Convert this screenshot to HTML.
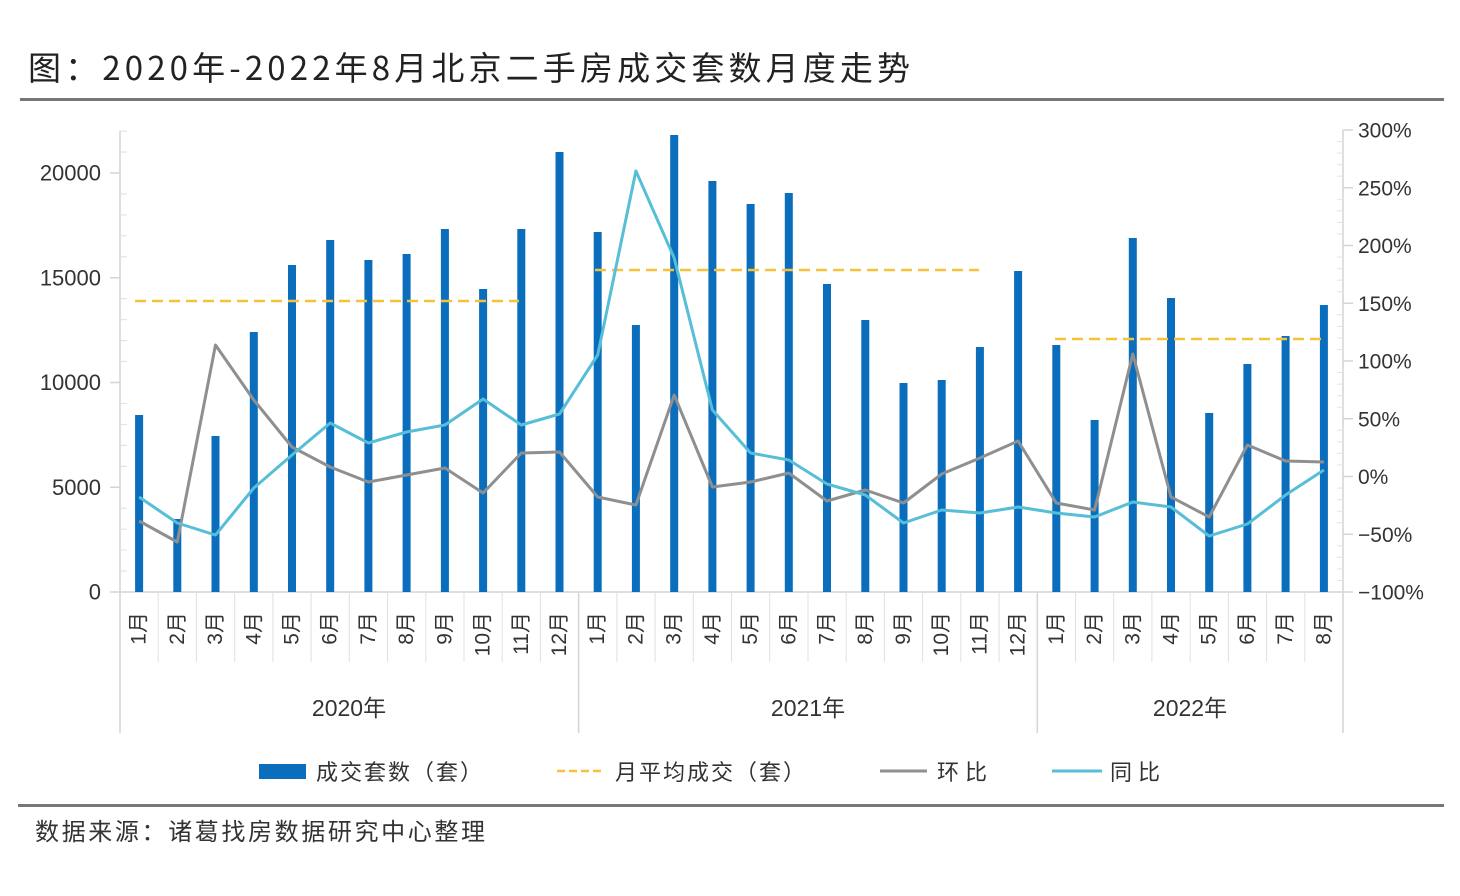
<!DOCTYPE html>
<html><head><meta charset="utf-8"><style>
html,body{margin:0;padding:0;background:#fff;}
svg{display:block;}
text{font-family:"Liberation Sans","Noto Sans CJK SC",sans-serif;}
.cjk{font-family:"Noto Sans CJK SC","Liberation Sans",sans-serif;}
</style></head><body>
<svg width="1460" height="896" viewBox="0 0 1460 896" xmlns="http://www.w3.org/2000/svg">
<rect width="1460" height="896" fill="#fff"/>
<!-- Title -->
<text x="28" y="80" font-size="33" fill="#222" class="cjk" textLength="882" lengthAdjust="spacing">图：2020年-2022年8月北京二手房成交套数月度走势</text>
<rect x="20" y="98" width="1424" height="3" fill="#777"/>

<!-- Axes -->
<g stroke="#d4d4d4" stroke-width="1.5" fill="none">
<line x1="120" y1="131" x2="120" y2="733"/>
<line x1="1343" y1="130" x2="1343" y2="733"/>
<line x1="120" y1="592" x2="1343" y2="592"/>
<line x1="578.6" y1="592" x2="578.6" y2="733"/>
<line x1="1037.3" y1="592" x2="1037.3" y2="733"/>
</g>
<!-- category separators -->
<g stroke="#e0e0e0" stroke-width="1">
<line x1="158.2" y1="592" x2="158.2" y2="662"/><line x1="196.4" y1="592" x2="196.4" y2="662"/><line x1="234.7" y1="592" x2="234.7" y2="662"/><line x1="272.9" y1="592" x2="272.9" y2="662"/><line x1="311.1" y1="592" x2="311.1" y2="662"/><line x1="349.3" y1="592" x2="349.3" y2="662"/><line x1="387.5" y1="592" x2="387.5" y2="662"/><line x1="425.8" y1="592" x2="425.8" y2="662"/><line x1="464.0" y1="592" x2="464.0" y2="662"/><line x1="502.2" y1="592" x2="502.2" y2="662"/><line x1="540.4" y1="592" x2="540.4" y2="662"/>
<line x1="616.9" y1="592" x2="616.9" y2="662"/><line x1="655.1" y1="592" x2="655.1" y2="662"/><line x1="693.3" y1="592" x2="693.3" y2="662"/><line x1="731.5" y1="592" x2="731.5" y2="662"/><line x1="769.7" y1="592" x2="769.7" y2="662"/><line x1="808.0" y1="592" x2="808.0" y2="662"/><line x1="846.2" y1="592" x2="846.2" y2="662"/><line x1="884.4" y1="592" x2="884.4" y2="662"/><line x1="922.6" y1="592" x2="922.6" y2="662"/><line x1="960.8" y1="592" x2="960.8" y2="662"/><line x1="999.1" y1="592" x2="999.1" y2="662"/>
<line x1="1075.5" y1="592" x2="1075.5" y2="662"/><line x1="1113.7" y1="592" x2="1113.7" y2="662"/><line x1="1151.9" y1="592" x2="1151.9" y2="662"/><line x1="1190.2" y1="592" x2="1190.2" y2="662"/><line x1="1228.4" y1="592" x2="1228.4" y2="662"/><line x1="1266.6" y1="592" x2="1266.6" y2="662"/><line x1="1304.8" y1="592" x2="1304.8" y2="662"/>
</g>
<!-- left ticks -->
<g stroke="#d4d4d4" stroke-width="1.5">
<line x1="110" y1="592" x2="120" y2="592"/><line x1="110" y1="487.25" x2="120" y2="487.25"/><line x1="110" y1="382.5" x2="120" y2="382.5"/><line x1="110" y1="277.75" x2="120" y2="277.75"/><line x1="110" y1="173" x2="120" y2="173"/>
</g>
<g stroke="#dedede" stroke-width="1">
<line x1="120" y1="571.05" x2="127" y2="571.05"/><line x1="120" y1="550.1" x2="127" y2="550.1"/><line x1="120" y1="529.15" x2="127" y2="529.15"/><line x1="120" y1="508.2" x2="127" y2="508.2"/>
<line x1="120" y1="466.3" x2="127" y2="466.3"/><line x1="120" y1="445.35" x2="127" y2="445.35"/><line x1="120" y1="424.4" x2="127" y2="424.4"/><line x1="120" y1="403.45" x2="127" y2="403.45"/>
<line x1="120" y1="361.55" x2="127" y2="361.55"/><line x1="120" y1="340.6" x2="127" y2="340.6"/><line x1="120" y1="319.65" x2="127" y2="319.65"/><line x1="120" y1="298.7" x2="127" y2="298.7"/>
<line x1="120" y1="256.8" x2="127" y2="256.8"/><line x1="120" y1="235.85" x2="127" y2="235.85"/><line x1="120" y1="214.9" x2="127" y2="214.9"/><line x1="120" y1="193.95" x2="127" y2="193.95"/>
<line x1="120" y1="152.05" x2="127" y2="152.05"/><line x1="120" y1="131.1" x2="127" y2="131.1"/>
</g>
<!-- right ticks -->
<g stroke="#d4d4d4" stroke-width="1.5">
<line x1="1343" y1="130" x2="1353" y2="130"/><line x1="1343" y1="187.75" x2="1353" y2="187.75"/><line x1="1343" y1="245.5" x2="1353" y2="245.5"/><line x1="1343" y1="303.25" x2="1353" y2="303.25"/><line x1="1343" y1="361" x2="1353" y2="361"/><line x1="1343" y1="418.75" x2="1353" y2="418.75"/><line x1="1343" y1="476.5" x2="1353" y2="476.5"/><line x1="1343" y1="534.25" x2="1353" y2="534.25"/><line x1="1343" y1="592" x2="1353" y2="592"/>
</g>
<g stroke="#e2e2e2" stroke-width="1">
<line x1="1337" y1="141.55" x2="1343" y2="141.55"/><line x1="1337" y1="153.1" x2="1343" y2="153.1"/><line x1="1337" y1="164.65" x2="1343" y2="164.65"/><line x1="1337" y1="176.2" x2="1343" y2="176.2"/>
<line x1="1337" y1="199.3" x2="1343" y2="199.3"/><line x1="1337" y1="210.85" x2="1343" y2="210.85"/><line x1="1337" y1="222.4" x2="1343" y2="222.4"/><line x1="1337" y1="233.95" x2="1343" y2="233.95"/>
<line x1="1337" y1="257.05" x2="1343" y2="257.05"/><line x1="1337" y1="268.6" x2="1343" y2="268.6"/><line x1="1337" y1="280.15" x2="1343" y2="280.15"/><line x1="1337" y1="291.7" x2="1343" y2="291.7"/>
<line x1="1337" y1="314.8" x2="1343" y2="314.8"/><line x1="1337" y1="326.35" x2="1343" y2="326.35"/><line x1="1337" y1="337.9" x2="1343" y2="337.9"/><line x1="1337" y1="349.45" x2="1343" y2="349.45"/>
<line x1="1337" y1="372.55" x2="1343" y2="372.55"/><line x1="1337" y1="384.1" x2="1343" y2="384.1"/><line x1="1337" y1="395.65" x2="1343" y2="395.65"/><line x1="1337" y1="407.2" x2="1343" y2="407.2"/>
<line x1="1337" y1="430.3" x2="1343" y2="430.3"/><line x1="1337" y1="441.85" x2="1343" y2="441.85"/><line x1="1337" y1="453.4" x2="1343" y2="453.4"/><line x1="1337" y1="464.95" x2="1343" y2="464.95"/>
<line x1="1337" y1="488.05" x2="1343" y2="488.05"/><line x1="1337" y1="499.6" x2="1343" y2="499.6"/><line x1="1337" y1="511.15" x2="1343" y2="511.15"/><line x1="1337" y1="522.7" x2="1343" y2="522.7"/>
<line x1="1337" y1="545.8" x2="1343" y2="545.8"/><line x1="1337" y1="557.35" x2="1343" y2="557.35"/><line x1="1337" y1="568.9" x2="1343" y2="568.9"/><line x1="1337" y1="580.45" x2="1343" y2="580.45"/>
</g>

<!-- left labels -->
<g font-size="22" fill="#333" text-anchor="end" dominant-baseline="central">
<text x="101" y="592">0</text>
<text x="101" y="487.25">5000</text>
<text x="101" y="382.5">10000</text>
<text x="101" y="277.75">15000</text>
<text x="101" y="173">20000</text>
</g>
<!-- right labels -->
<g font-size="21" fill="#333" dominant-baseline="central">
<text x="1358" y="131">300%</text>
<text x="1358" y="188.75">250%</text>
<text x="1358" y="246.5">200%</text>
<text x="1358" y="304.25">150%</text>
<text x="1358" y="362">100%</text>
<text x="1358" y="419.75">50%</text>
<text x="1358" y="477.5">0%</text>
<text x="1358" y="535.25">−50%</text>
<text x="1358" y="593">−100%</text>
</g>

<!-- bars -->
<g fill="#0A6EBD">
<rect x="135.1" y="415" width="8" height="177"/>
<rect x="173.3" y="519" width="8" height="73"/>
<rect x="211.5" y="436" width="8" height="156"/>
<rect x="249.8" y="332" width="8" height="260"/>
<rect x="288.0" y="265" width="8" height="327"/>
<rect x="326.2" y="240" width="8" height="352"/>
<rect x="364.4" y="260" width="8" height="332"/>
<rect x="402.6" y="254" width="8" height="338"/>
<rect x="440.9" y="229" width="8" height="363"/>
<rect x="479.1" y="289" width="8" height="303"/>
<rect x="517.3" y="229" width="8" height="363"/>
<rect x="555.5" y="152" width="8" height="440"/>
<rect x="593.7" y="232" width="8" height="360"/>
<rect x="631.9" y="325" width="8" height="267"/>
<rect x="670.2" y="135" width="8" height="457"/>
<rect x="708.4" y="181" width="8" height="411"/>
<rect x="746.6" y="204" width="8" height="388"/>
<rect x="784.8" y="193" width="8" height="399"/>
<rect x="823.0" y="284" width="8" height="308"/>
<rect x="861.3" y="320" width="8" height="272"/>
<rect x="899.5" y="383" width="8" height="209"/>
<rect x="937.7" y="380" width="8" height="212"/>
<rect x="975.9" y="347" width="8" height="245"/>
<rect x="1014.1" y="271" width="8" height="321"/>
<rect x="1052.3" y="345" width="8" height="247"/>
<rect x="1090.6" y="420" width="8" height="172"/>
<rect x="1128.8" y="238" width="8" height="354"/>
<rect x="1167.0" y="298" width="8" height="294"/>
<rect x="1205.2" y="413" width="8" height="179"/>
<rect x="1243.4" y="364" width="8" height="228"/>
<rect x="1281.6" y="336" width="8" height="256"/>
<rect x="1319.9" y="305" width="8" height="287"/>
</g>

<!-- average dashed lines -->
<g stroke="#F7C23A" stroke-width="2.5" stroke-dasharray="11,6" fill="none">
<line x1="135" y1="301" x2="519" y2="301"/>
<line x1="595" y1="270" x2="979" y2="270"/>
<line x1="1055" y1="339" x2="1323" y2="339"/>
</g>

<!-- 环比 gray -->
<polyline fill="none" stroke="#8F8F8F" stroke-width="3" stroke-linejoin="round" points="139.1,521 177.3,542 215.5,345 253.8,400 292.0,447 330.2,467 368.4,482 406.6,475 444.9,468 483.1,493 521.3,453 559.5,452 597.7,497 635.9,505 674.2,395 712.4,487 750.6,482 788.8,473 827.0,501 865.3,490 903.5,503 941.7,474 979.9,458 1018.1,441 1056.3,503 1094.6,510 1132.8,354 1171.0,497 1209.2,517 1247.4,445 1285.6,461 1323.9,462"/>
<!-- 同比 cyan -->
<polyline fill="none" stroke="#56BED6" stroke-width="3" stroke-linejoin="round" points="139.1,497 177.3,523 215.5,535 253.8,488 292.0,455 330.2,423 368.4,443 406.6,432 444.9,425 483.1,399 521.3,425 559.5,414 597.7,355 635.9,171 674.2,258 712.4,410 750.6,453 788.8,460 827.0,484 865.3,495 903.5,523 941.7,510 979.9,513 1018.1,507 1056.3,513 1094.6,517 1132.8,502 1171.0,507 1209.2,536 1247.4,524 1285.6,495 1323.9,470"/>

<!-- month labels -->
<g font-size="21" fill="#333" text-anchor="end" dominant-baseline="central" class="cjk">
<text transform="translate(139.1,612) rotate(-90)">1月</text>
<text transform="translate(177.3,612) rotate(-90)">2月</text>
<text transform="translate(215.5,612) rotate(-90)">3月</text>
<text transform="translate(253.8,612) rotate(-90)">4月</text>
<text transform="translate(292.0,612) rotate(-90)">5月</text>
<text transform="translate(330.2,612) rotate(-90)">6月</text>
<text transform="translate(368.4,612) rotate(-90)">7月</text>
<text transform="translate(406.6,612) rotate(-90)">8月</text>
<text transform="translate(444.9,612) rotate(-90)">9月</text>
<text transform="translate(483.1,612) rotate(-90)">10月</text>
<text transform="translate(521.3,612) rotate(-90)">11月</text>
<text transform="translate(559.5,612) rotate(-90)">12月</text>
<text transform="translate(597.7,612) rotate(-90)">1月</text>
<text transform="translate(635.9,612) rotate(-90)">2月</text>
<text transform="translate(674.2,612) rotate(-90)">3月</text>
<text transform="translate(712.4,612) rotate(-90)">4月</text>
<text transform="translate(750.6,612) rotate(-90)">5月</text>
<text transform="translate(788.8,612) rotate(-90)">6月</text>
<text transform="translate(827.0,612) rotate(-90)">7月</text>
<text transform="translate(865.3,612) rotate(-90)">8月</text>
<text transform="translate(903.5,612) rotate(-90)">9月</text>
<text transform="translate(941.7,612) rotate(-90)">10月</text>
<text transform="translate(979.9,612) rotate(-90)">11月</text>
<text transform="translate(1018.1,612) rotate(-90)">12月</text>
<text transform="translate(1056.3,612) rotate(-90)">1月</text>
<text transform="translate(1094.6,612) rotate(-90)">2月</text>
<text transform="translate(1132.8,612) rotate(-90)">3月</text>
<text transform="translate(1171.0,612) rotate(-90)">4月</text>
<text transform="translate(1209.2,612) rotate(-90)">5月</text>
<text transform="translate(1247.4,612) rotate(-90)">6月</text>
<text transform="translate(1285.6,612) rotate(-90)">7月</text>
<text transform="translate(1323.9,612) rotate(-90)">8月</text>
</g>

<!-- year labels -->
<g font-size="23" fill="#333" text-anchor="middle" class="cjk">
<text x="349" y="716">2020年</text>
<text x="808" y="716">2021年</text>
<text x="1190" y="716">2022年</text>
</g>

<!-- legend -->
<rect x="259" y="764" width="47" height="15" fill="#0A6EBD"/>
<text x="316" y="780" font-size="22" fill="#333" class="cjk" textLength="166" lengthAdjust="spacing">成交套数（套）</text>
<line x1="557" y1="771" x2="605" y2="771" stroke="#F7C23A" stroke-width="2.5" stroke-dasharray="8,4"/>
<text x="615" y="780" font-size="22" fill="#333" class="cjk" textLength="190" lengthAdjust="spacing">月平均成交（套）</text>
<line x1="880" y1="771" x2="927" y2="771" stroke="#8F8F8F" stroke-width="3"/>
<text x="937" y="780" font-size="22" fill="#333" class="cjk" textLength="50" lengthAdjust="spacing">环比</text>
<line x1="1052" y1="771" x2="1102" y2="771" stroke="#56BED6" stroke-width="3"/>
<text x="1110" y="780" font-size="22" fill="#333" class="cjk" textLength="50" lengthAdjust="spacing">同比</text>

<!-- bottom rule and source -->
<rect x="18" y="804" width="1426" height="3" fill="#777"/>
<text x="35" y="840" font-size="24" fill="#333" class="cjk" textLength="450" lengthAdjust="spacing">数据来源：诸葛找房数据研究中心整理</text>
</svg>
</body></html>
